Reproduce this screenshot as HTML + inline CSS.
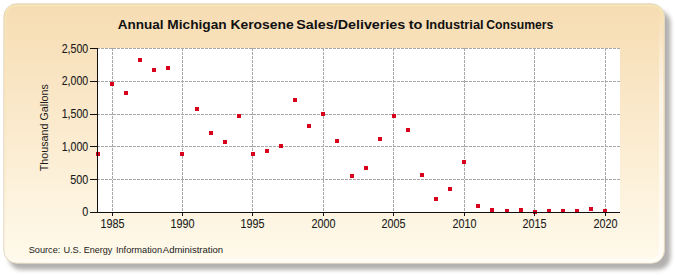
<!DOCTYPE html>
<html><head><meta charset="utf-8"><style>
html,body{margin:0;padding:0;background:#fff;}
body{width:675px;height:275px;overflow:hidden;position:relative;}
svg{position:absolute;left:0;top:0;}
.g{stroke:#a8a8a8;stroke-width:1;stroke-dasharray:3,1;shape-rendering:crispEdges;}
.a{stroke:#111;stroke-width:1;shape-rendering:crispEdges;}
.m{fill:#d8001c;shape-rendering:crispEdges;}
text{font-family:"Liberation Sans",sans-serif;fill:#1a1a1a;}
.yl{font-size:12.2px;text-anchor:end;stroke:#1a1a1a;stroke-width:0.1px;}
.xl{font-size:12.2px;text-anchor:middle;stroke:#1a1a1a;stroke-width:0.1px;}
.t{font-size:13.4px;font-weight:bold;fill:#111;}
.s{font-size:9px;fill:#1a1a1a;}
.yt{font-size:11.6px;text-anchor:middle;}
</style></head><body>
<svg width="675" height="275" viewBox="0 0 675 275">
<defs>
<linearGradient id="bg" x1="0" y1="0" x2="0" y2="1">
<stop offset="0" stop-color="#f6dcb2"/>
<stop offset="0.5" stop-color="#fbebcf"/>
<stop offset="1" stop-color="#fffaec"/>
</linearGradient>
<linearGradient id="hl" gradientUnits="userSpaceOnUse" x1="0" y1="10" x2="0" y2="90"><stop offset="0" stop-color="#fff" stop-opacity="0"/><stop offset="1" stop-color="#fff" stop-opacity="0.55"/></linearGradient>
<linearGradient id="hlb" gradientUnits="userSpaceOnUse" x1="8" y1="0" x2="50" y2="0"><stop offset="0" stop-color="#fff" stop-opacity="0"/><stop offset="1" stop-color="#fff" stop-opacity="0.55"/></linearGradient>
<linearGradient id="yl" gradientUnits="userSpaceOnUse" x1="0" y1="0" x2="0" y2="240"><stop offset="0" stop-color="#f8e6bb" stop-opacity="0.9"/><stop offset="1" stop-color="#f8e6bb" stop-opacity="0"/></linearGradient>
<filter id="sh" x="-5%" y="-5%" width="115%" height="120%">
<feGaussianBlur stdDeviation="2"/>
</filter>
</defs>
<rect x="8.5" y="10.2" width="662" height="259.5" rx="13" ry="13" fill="#b2b0ae" filter="url(#sh)"/>
<rect x="3.8" y="3.8" width="660.7" height="259.4" rx="13" ry="13" fill="url(#bg)" stroke="#e3d9c0" stroke-width="1"/>
<path d="M 5.6 240 L 5.6 17 Q 5.6 5.6 17 5.6 L 651 5.6 Q 662.6 5.6 662.6 17 L 662.6 30" fill="none" stroke="url(#yl)" stroke-width="1.6"/>
<path d="M 661 17 L 661 250 Q 661 261 650 261" fill="none" stroke="url(#hl)" stroke-width="4"/>
<path d="M 16 261 L 651 261" fill="none" stroke="url(#hlb)" stroke-width="4"/>
<rect x="98" y="48" width="522" height="164" fill="#fff"/>
<line x1="98" y1="48.5" x2="620" y2="48.5" class="g" stroke-dashoffset="1"/>
<line x1="98" y1="81.5" x2="620" y2="81.5" class="g" stroke-dashoffset="1"/>
<line x1="98" y1="114.5" x2="620" y2="114.5" class="g" stroke-dashoffset="1"/>
<line x1="98" y1="146.5" x2="620" y2="146.5" class="g" stroke-dashoffset="1"/>
<line x1="98" y1="179.5" x2="620" y2="179.5" class="g" stroke-dashoffset="1"/>
<line x1="112.5" y1="48" x2="112.5" y2="212" class="g"/>
<line x1="182.5" y1="48" x2="182.5" y2="212" class="g"/>
<line x1="252.5" y1="48" x2="252.5" y2="212" class="g"/>
<line x1="323.5" y1="48" x2="323.5" y2="212" class="g"/>
<line x1="393.5" y1="48" x2="393.5" y2="212" class="g"/>
<line x1="464.5" y1="48" x2="464.5" y2="212" class="g"/>
<line x1="534.5" y1="48" x2="534.5" y2="212" class="g"/>
<line x1="605.5" y1="48" x2="605.5" y2="212" class="g"/>
<rect x="96" y="152" width="4" height="4" class="m"/>
<rect x="110" y="82" width="4" height="4" class="m"/>
<rect x="124" y="91" width="4" height="4" class="m"/>
<rect x="138" y="58" width="4" height="4" class="m"/>
<rect x="152" y="68" width="4" height="4" class="m"/>
<rect x="166" y="66" width="4" height="4" class="m"/>
<rect x="180" y="152" width="4" height="4" class="m"/>
<rect x="195" y="107" width="4" height="4" class="m"/>
<rect x="209" y="131" width="4" height="4" class="m"/>
<rect x="223" y="140" width="4" height="4" class="m"/>
<rect x="237" y="114" width="4" height="4" class="m"/>
<rect x="251" y="152" width="4" height="4" class="m"/>
<rect x="265" y="149" width="4" height="4" class="m"/>
<rect x="279" y="144" width="4" height="4" class="m"/>
<rect x="293" y="98" width="4" height="4" class="m"/>
<rect x="307" y="124" width="4" height="4" class="m"/>
<rect x="321" y="112" width="4" height="4" class="m"/>
<rect x="335" y="139" width="4" height="4" class="m"/>
<rect x="350" y="174" width="4" height="4" class="m"/>
<rect x="364" y="166" width="4" height="4" class="m"/>
<rect x="378" y="137" width="4" height="4" class="m"/>
<rect x="392" y="114" width="4" height="4" class="m"/>
<rect x="406" y="128" width="4" height="4" class="m"/>
<rect x="420" y="173" width="4" height="4" class="m"/>
<rect x="434" y="197" width="4" height="4" class="m"/>
<rect x="448" y="187" width="4" height="4" class="m"/>
<rect x="462" y="160" width="4" height="4" class="m"/>
<rect x="476" y="204" width="4" height="4" class="m"/>
<rect x="490" y="208" width="4" height="4" class="m"/>
<rect x="505" y="209" width="4" height="4" class="m"/>
<rect x="519" y="208" width="4" height="4" class="m"/>
<rect x="533" y="210" width="4" height="4" class="m"/>
<rect x="547" y="209" width="4" height="4" class="m"/>
<rect x="561" y="209" width="4" height="4" class="m"/>
<rect x="575" y="209" width="4" height="4" class="m"/>
<rect x="589" y="207" width="4" height="4" class="m"/>
<rect x="603" y="209" width="4" height="4" class="m"/>
<line x1="90" y1="212.5" x2="620" y2="212.5" class="a"/>
<line x1="97.5" y1="48" x2="97.5" y2="213" class="a"/>
<line x1="90" y1="48.5" x2="97" y2="48.5" class="a"/>
<line x1="90" y1="81.5" x2="97" y2="81.5" class="a"/>
<line x1="90" y1="114.5" x2="97" y2="114.5" class="a"/>
<line x1="90" y1="146.5" x2="97" y2="146.5" class="a"/>
<line x1="90" y1="179.5" x2="97" y2="179.5" class="a"/>
<line x1="112.5" y1="213" x2="112.5" y2="216" class="a"/>
<line x1="182.5" y1="213" x2="182.5" y2="216" class="a"/>
<line x1="252.5" y1="213" x2="252.5" y2="216" class="a"/>
<line x1="323.5" y1="213" x2="323.5" y2="216" class="a"/>
<line x1="393.5" y1="213" x2="393.5" y2="216" class="a"/>
<line x1="464.5" y1="213" x2="464.5" y2="216" class="a"/>
<line x1="534.5" y1="213" x2="534.5" y2="216" class="a"/>
<line x1="605.5" y1="213" x2="605.5" y2="216" class="a"/>
<text x="88.2" y="52.60" class="yl" textLength="26.5" lengthAdjust="spacingAndGlyphs">2,500</text>
<text x="88.2" y="85.40" class="yl" textLength="26.5" lengthAdjust="spacingAndGlyphs">2,000</text>
<text x="88.2" y="118.20" class="yl" textLength="26.5" lengthAdjust="spacingAndGlyphs">1,500</text>
<text x="88.2" y="151.00" class="yl" textLength="26.5" lengthAdjust="spacingAndGlyphs">1,000</text>
<text x="88.2" y="183.80" class="yl" textLength="18" lengthAdjust="spacingAndGlyphs">500</text>
<text x="88.2" y="216.00" class="yl" textLength="6" lengthAdjust="spacingAndGlyphs">0</text>
<text x="112.5" y="227.9" class="xl" textLength="24" lengthAdjust="spacingAndGlyphs">1985</text>
<text x="182.5" y="227.9" class="xl" textLength="24" lengthAdjust="spacingAndGlyphs">1990</text>
<text x="252.5" y="227.9" class="xl" textLength="24" lengthAdjust="spacingAndGlyphs">1995</text>
<text x="323.5" y="227.9" class="xl" textLength="24" lengthAdjust="spacingAndGlyphs">2000</text>
<text x="393.5" y="227.9" class="xl" textLength="24" lengthAdjust="spacingAndGlyphs">2005</text>
<text x="464.5" y="227.9" class="xl" textLength="24" lengthAdjust="spacingAndGlyphs">2010</text>
<text x="534.5" y="227.9" class="xl" textLength="24" lengthAdjust="spacingAndGlyphs">2015</text>
<text x="605.5" y="227.9" class="xl" textLength="24" lengthAdjust="spacingAndGlyphs">2020</text>
<text x="117.7" y="29" class="t" textLength="45.9" lengthAdjust="spacingAndGlyphs">Annual</text>
<text x="167.3" y="29" class="t" textLength="59.4" lengthAdjust="spacingAndGlyphs">Michigan</text>
<text x="230.4" y="29" class="t" textLength="63.3" lengthAdjust="spacingAndGlyphs">Kerosene</text>
<text x="296.3" y="29" class="t" textLength="109.0" lengthAdjust="spacingAndGlyphs">Sales/Deliveries</text>
<text x="408.7" y="29" class="t" textLength="13.7" lengthAdjust="spacingAndGlyphs">to</text>
<text x="425.7" y="29" class="t" textLength="58.0" lengthAdjust="spacingAndGlyphs">Industrial</text>
<text x="486.2" y="29" class="t" textLength="67.1" lengthAdjust="spacingAndGlyphs">Consumers</text>
<text x="28.7" y="252.8" class="s" textLength="31.7" lengthAdjust="spacingAndGlyphs">Source:</text>
<text x="63.4" y="252.8" class="s" textLength="17.9" lengthAdjust="spacingAndGlyphs">U.S.</text>
<text x="83.8" y="252.8" class="s" textLength="28.6" lengthAdjust="spacingAndGlyphs">Energy</text>
<text x="115.9" y="252.8" class="s" textLength="46.2" lengthAdjust="spacingAndGlyphs">Information</text>
<text x="162.8" y="252.8" class="s" textLength="60.3" lengthAdjust="spacingAndGlyphs">Administration</text>
<text transform="translate(47.8,127.7) rotate(-90)" x="0" y="0" class="yt" textLength="87" lengthAdjust="spacingAndGlyphs">Thousand Gallons</text>
</svg>
</body></html>
